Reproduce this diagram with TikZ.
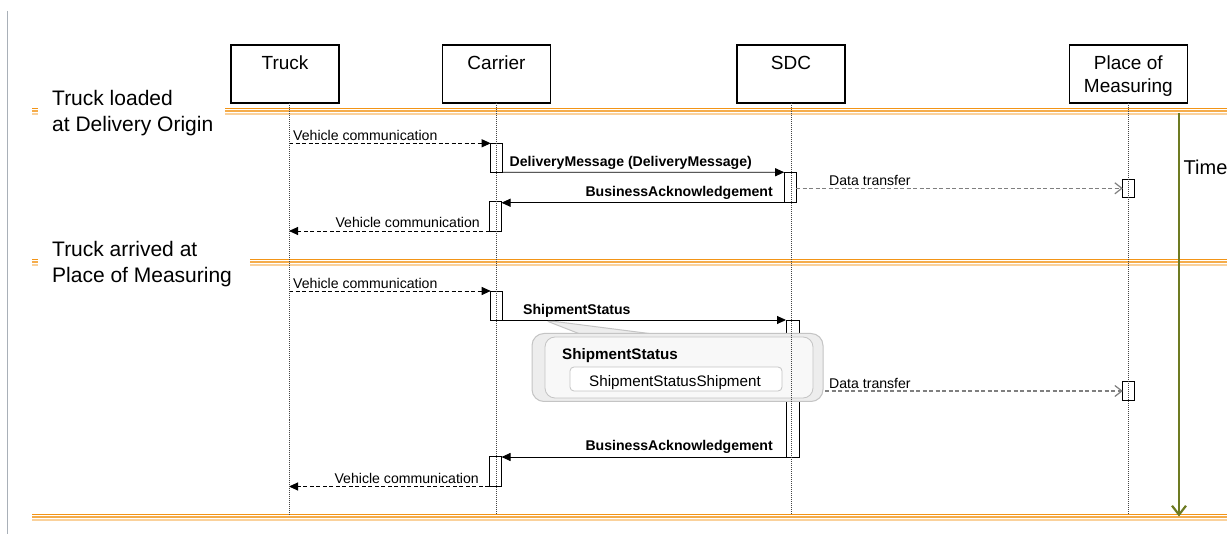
\documentclass[tikz,border=0pt]{standalone}
\usepackage{fontspec}
\setmainfont{Liberation Sans}
\usetikzlibrary{arrows.meta}

\definecolor{ruleA}{HTML}{F29416}
\definecolor{ruleB}{HTML}{F5AC4A}
\definecolor{ruleC}{HTML}{FAD19B}
\definecolor{timecol}{HTML}{6E7B22}
\definecolor{edgegray}{HTML}{A9B0B8}
\definecolor{xfer}{HTML}{7F7F7F}
\definecolor{calloutfill}{HTML}{EDEDED}
\definecolor{calloutline}{HTML}{C4C4C4}
\definecolor{calloutinner}{HTML}{F8F8F8}
\definecolor{lifecol}{HTML}{444444}

\newcommand\msgfont{\fontsize{14.1}{16}\selectfont}
\newcommand\hdrfont{\fontsize{19}{23}\selectfont}
\newcommand\secfont{\fontsize{21}{25.5}\selectfont}
\newcommand\cofont{\fontsize{15.2}{18}\selectfont}
\newcommand\timefont{\fontsize{20}{24}\selectfont}

% triple orange phase separator: from x=#1 to x=#2 at height #3
\newcommand\orangerule[3]{%
  \draw[ruleA, line width=1.2pt] (#1,#3) -- (#2,#3);
  \draw[ruleB, line width=1.3pt] (#1,#3+2.6) -- (#2,#3+2.6);
  \draw[ruleC, line width=2pt] (#1,#3+5.3) -- (#2,#3+5.3);}

\begin{document}
\begin{tikzpicture}[x=1pt,y=-1pt,
  hdr/.style={draw=black,line width=1.3pt,minimum width=108pt,minimum height=58pt,inner sep=0pt,outer sep=0pt},
  hdrtext/.style={font=\hdrfont,align=center,anchor=north,inner sep=0pt,text=black},
  sect/.style={font=\secfont,align=left,anchor=north west,inner sep=0pt,text=black},
  life/.style={lifecol,line width=0.9pt,dash pattern=on 1pt off 1pt},
  act/.style={draw=black,fill=white,line width=0.9pt,inner sep=0pt,outer sep=0pt,minimum width=12pt},
  msg/.style={black,line width=0.9pt,-{Triangle[length=9pt,width=8pt]}},
  vmsg/.style={msg,dash pattern=on 4pt off 2.5pt},
  xmsg/.style={xfer,line width=1.2pt,dash pattern=on 4pt off 2.5pt,-{Straight Barb[length=7pt,width=11pt]}},
  lbl/.style={font=\msgfont,inner sep=0pt,text=black},
  blbl/.style={lbl,font=\msgfont\bfseries},
]
\useasboundingbox (0,0) rectangle (1227,534);
\fill[white] (0,0) rectangle (1227,534);

% left page edge
\draw[edgegray,line width=1pt] (7.5,11) -- (7.5,534);

% participants
\node[hdr] (truck) at (285,74) {};
\node[hdr] (carrier) at (496.5,74) {};
\node[hdr] (sdc) at (791,74) {};
\node[hdr,minimum width=118pt] (place) at (1128.3,74) {};
\node[hdrtext] (truckT) at ([yshift=-11pt]truck.north) {Truck};
\node[hdrtext] (carrierT) at ([yshift=-11pt]carrier.north) {Carrier};
\node[hdrtext] (sdcT) at ([yshift=-11pt]sdc.north) {SDC};
\node[hdrtext] (placeT) at ([yshift=-11pt]place.north) {Place of\\Measuring};

\coordinate (truckL) at (289,103.5);
\coordinate (floor) at (0,514);

% phase labels and separators
\node[sect] (phase1) at (52,90.5) {Truck loaded\\at Delivery Origin};
\node[sect] (phase2) at (52,241.5) {Truck arrived at\\Place of Measuring};
\orangerule{225}{1227}{108.5}
\orangerule{32}{38}{108.5}
\orangerule{250}{1227}{259.5}
\orangerule{32}{38}{259.5}
\orangerule{32}{1227}{514.3}

% activation bars
\node[act,minimum height=29pt] (c1) at (496.7,157.8) {};
\node[act,minimum height=30.5pt] (s1) at (790.2,187.5) {};
\node[act,minimum height=30pt] (c2) at (495.5,216) {};
\node[act,minimum height=18.5pt] (p1) at (1128.8,188.3) {};
\node[act,minimum height=29pt] (c3) at (496.7,305.5) {};
\node[act,minimum width=13pt,minimum height=137pt] (s2) at (792.5,388.5) {};
\node[act,minimum height=18.5pt] (p2) at (1128.8,391) {};
\node[act,minimum width=12.5pt,minimum height=30pt] (c4) at (495.3,471.5) {};

% messages, phase 1
\draw[vmsg] (truckL |- c1.north west) -- (c1.north west);
\draw[msg] (c1.south east) -- (s1.north west);
\draw[msg] (s1.south west) -- (s1.south west -| c2.east);
\draw[vmsg] (c2.south west) -- (truckL |- c2.south west);
\draw[xmsg] (s1.east |- p1.west) -- (p1.west);

% messages, phase 2
\draw[vmsg] (truckL |- c3.north west) -- (c3.north west);
\draw[msg] (c3.south east) -- (s2.north west);
\draw[xmsg] (s2.east |- p2.west) -- (p2.west);
\draw[msg] (s2.south west) -- (s2.south west -| c4.east);
\draw[vmsg] (c4.south west) -- (truckL |- c4.south west);

% message labels
\node[lbl,anchor=base west] (l1) at (293,140.5) {Vehicle communication};
\node[blbl,anchor=base west] (l2) at (509.5,166.5) {DeliveryMessage (DeliveryMessage)};
\node[blbl,anchor=base east] (l3) at (773,197) {BusinessAcknowledgement};
\node[lbl,anchor=base east] (l4) at (480,227.5) {Vehicle communication};
\node[lbl,anchor=base west] (l5) at (829,185.5) {Data transfer};
\node[lbl,anchor=base west] (l6) at (293,288.5) {Vehicle communication};
\node[blbl,anchor=base west] (l7) at (523,315) {ShipmentStatus};
\node[lbl,anchor=base west] (l8) at (829,388.5) {Data transfer};
\node[blbl,anchor=base east] (l9) at (773,451) {BusinessAcknowledgement};
\node[lbl,anchor=base east] (l10) at (479,483.5) {Vehicle communication};

% message content callout
\draw[calloutline,fill=calloutfill,line width=1pt,line join=round]
  (548,321.5) -- (555,321.5) -- (653,334) -- (580,334) -- cycle;
\node[draw=calloutline,fill=calloutfill,line width=1pt,rounded corners=12pt,
      minimum width=291pt,minimum height=68pt,inner sep=0pt] (co) at (677.5,367.5) {};
\node[draw=calloutline,fill=calloutinner,line width=0.8pt,rounded corners=10pt,
      minimum width=268pt,minimum height=61pt,inner sep=0pt] (coin) at (679,367.5) {};
\node[font=\cofont\bfseries,anchor=base west,inner sep=0pt] (cotitle) at (562,359.5) {ShipmentStatus};
\node[draw=calloutline,fill=white,line width=0.8pt,rounded corners=4pt,
      minimum width=212pt,minimum height=24pt,inner sep=0pt] (cobox) at (676,379) {};
\node[font=\cofont,anchor=base,inner sep=0pt] (coboxT) at (675,387) {ShipmentStatusShipment};

% lifelines
\draw[life] (truckL) -- (truckL |- floor);
\draw[life] (carrier.south) -- (carrier.south |- floor);
\draw[life] (sdc.south) -- (sdc.south |- floor);
\draw[life] (place.south) -- (place.south |- floor);

% time axis
\coordinate (tTop) at (1179,113);
\coordinate (tEnd) at (1179,516.5);
\draw[timecol,line width=2.2pt,-{Straight Barb[length=9pt,width=14pt]}] (tTop) -- (tEnd);
\node[font=\timefont,anchor=base west,inner sep=0pt] (timeT) at (1183.5,175) {Time};
\end{tikzpicture}
\end{document}
